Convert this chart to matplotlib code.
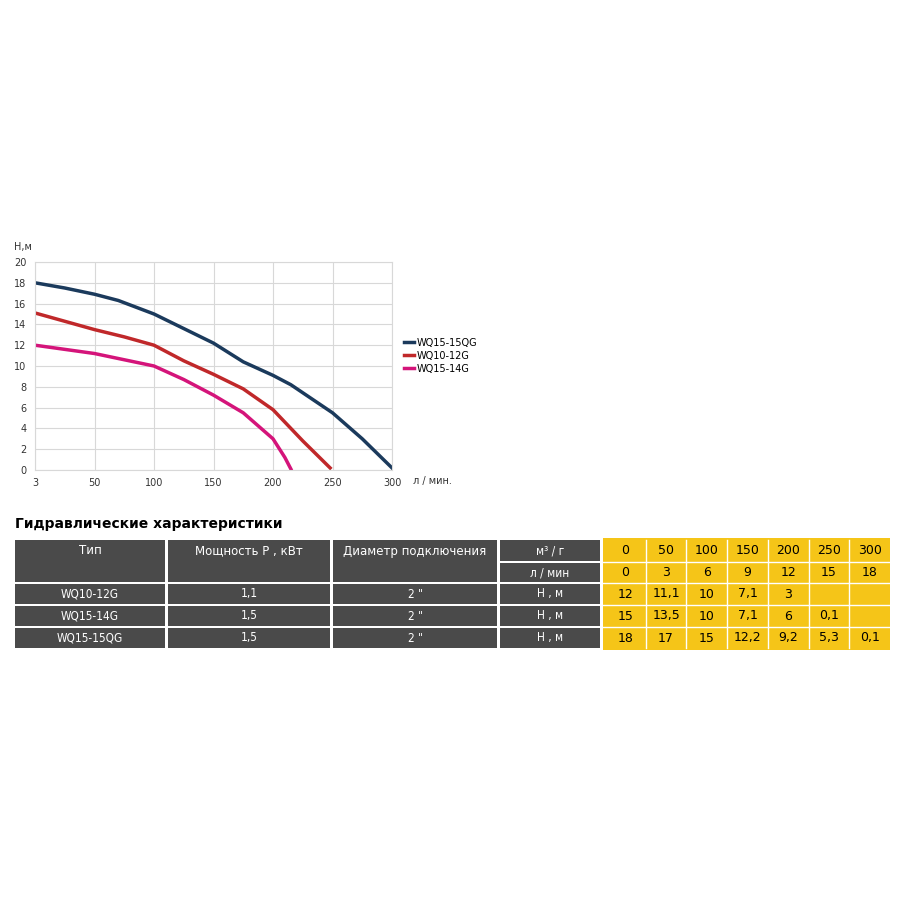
import matplotlib
matplotlib.use("Agg")
import matplotlib.pyplot as plt
from matplotlib.patches import Rectangle

# ---- curve data (flow l/min, head m) ----
x_15qg = [0, 25, 50, 70, 100, 125, 150, 175, 200, 215, 250, 275, 300]
h_15qg = [18, 17.5, 16.9, 16.3, 15, 13.6, 12.2, 10.4, 9.1, 8.2, 5.5, 3, 0.2]
x_12g = [0, 50, 75, 100, 125, 150, 175, 200, 225, 248]
h_12g = [15.1, 13.5, 12.8, 12, 10.5, 9.2, 7.8, 5.8, 2.8, 0.2]
x_14g = [0, 50, 100, 125, 150, 175, 200, 210, 215]
h_14g = [12, 11.2, 10, 8.7, 7.2, 5.5, 3, 1.2, 0.1]
xtick_vals = [0, 50, 100, 150, 200, 250, 300]
xtick_labels = ["3", "50", "100", "150", "200", "250", "300"]

# ---- table data ----
head_cols = ["Тип", "Мощность Р , кВт", "Диаметр подключения"]
models = ["WQ10-12G", "WQ15-14G", "WQ15-15QG"]
powers = ["1,1", "1,5", "1,5"]
diams = ['2 "', '2 "', '2 "']
flow_m3 = ["0", "50", "100", "150", "200", "250", "300"]
flow_l = ["0", "3", "6", "9", "12", "15", "18"]
heads = [["12", "11,1", "10", "7,1", "3", "", ""],
         ["15", "13,5", "10", "7,1", "6", "0,1", ""],
         ["18", "17", "15", "12,2", "9,2", "5,3", "0,1"]]

fig = plt.figure(figsize=(9, 9), dpi=100)
fig.patch.set_facecolor("white")

ax = fig.add_axes([35/900, 1-470/900, 357/900, 208/900])
ax.plot(x_15qg, h_15qg, color="#1b3a5c", lw=2.5, label="WQ15-15QG")
ax.plot(x_12g, h_12g, color="#c0282a", lw=2.5, label="WQ10-12G")
ax.plot(x_14g, h_14g, color="#d4147a", lw=2.5, label="WQ15-14G")
ax.set_xlim(0, 300); ax.set_ylim(0, 20)
ax.set_xticks(xtick_vals); ax.set_xticklabels(xtick_labels)
ax.set_yticks(range(0, 21, 2))
ax.grid(True, color="#d8d8d8", lw=0.8)
for s in ax.spines.values():
    s.set_color("#d8d8d8")
ax.tick_params(length=0, labelsize=7, colors="#333333", pad=6)
ax.text(-0.01, 1.06, "H,м", transform=ax.transAxes, fontsize=7, ha="right", color="#333")
ax.text(1.06, -0.055, "л / мин.", transform=ax.transAxes, fontsize=7, va="center", color="#333")
ax.legend(loc="center left", bbox_to_anchor=(1.01, 0.55), frameon=False, fontsize=7,
          handlelength=1.0, handletextpad=0.3, labelspacing=0.3)

# ---- table in pixel coords ----
tx = fig.add_axes([0, 0, 1, 1])
tx.set_xlim(0, 900); tx.set_ylim(900, 0); tx.axis("off")
tx.text(15, 524, "Гидравлические характеристики", fontsize=10, fontweight="bold", va="center")
dark = "#4a4a4a"; yel = "#f5c518"
def cell(x0, x1, y0, y1, txt, fc, tc):
    tx.add_patch(Rectangle((x0, y0), x1-x0, y1-y0, fc=fc, ec="none"))
    tx.text((x0+x1)/2, (y0+y1)/2, txt, ha="center", va="center", fontsize=8.5,
            color=tc, fontstretch="condensed")
colx = [(15, 165), (168, 330), (333, 497)]
rows = [(584, 604), (606, 626), (628, 648)]
for (x0, x1), h in zip(colx, head_cols):
    cell(x0, x1, 540, 582, "", dark, "white")
    tx.text((x0+x1)/2, 551, h, ha="center", va="center", fontsize=8.5, color="white")
cell(500, 600, 540, 561, "м³ / г", dark, "white")
cell(500, 600, 563, 582, "л / мин", dark, "white")
tx.add_patch(Rectangle((603, 538), 890-603, 112, fc=yel, ec="none"))
cw = (890-605)/7
for i in range(7):
    cx0 = 605 + i*cw
    tx.text(cx0+cw/2, 551, flow_m3[i], ha="center", va="center", fontsize=9)
    tx.text(cx0+cw/2, 572, flow_l[i], ha="center", va="center", fontsize=9)
tx.plot([603, 890], [562, 562], color="white", lw=1)
for r, (y0, y1) in enumerate(rows):
    cell(15, 165, y0, y1, models[r], dark, "white")
    cell(168, 330, y0, y1, powers[r], dark, "white")
    cell(333, 497, y0, y1, diams[r], dark, "white")
    cell(500, 600, y0, y1, "Н , м", dark, "white")
    tx.plot([603, 890], [y0-1, y0-1], color="white", lw=1)
    for i in range(7):
        cx0 = 605 + i*cw
        tx.text(cx0+cw/2, (y0+y1)/2, heads[r][i], ha="center", va="center", fontsize=9)
for i in range(1, 7):
    tx.plot([605+i*cw]*2, [540, 648], color="white", lw=1)

fig.savefig("out.png", dpi=100)
